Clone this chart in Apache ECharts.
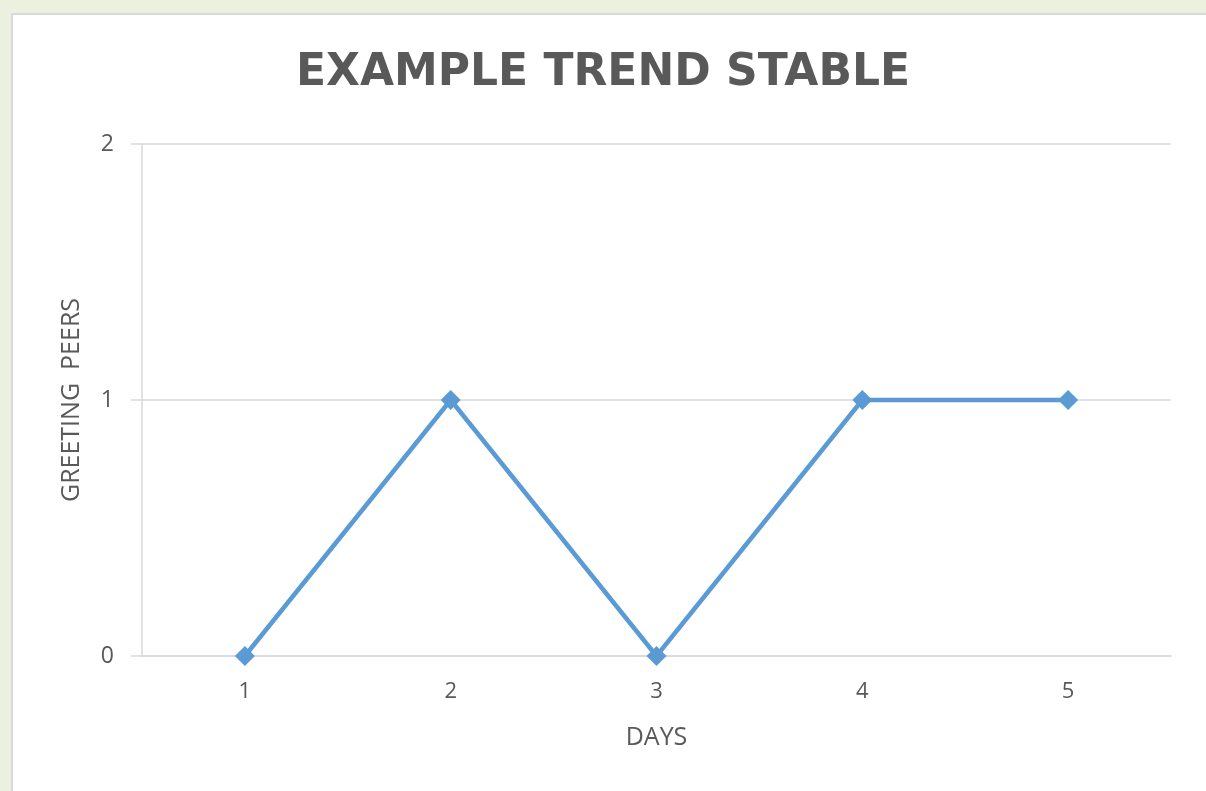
<!DOCTYPE html>
<html>
<head>
<meta charset="utf-8">
<script src="https://cdn.jsdelivr.net/npm/echarts@6/dist/echarts.min.js"></script>
<style>
html,body{margin:0;padding:0;background:#EBF1DE;}
#main{width:1206px;height:791px;}
</style>
</head>
<body>
<div id="main"></div>
<script>
const titleText = 'EXAMPLE TREND STABLE';
const days = ['1', '2', '3', '4', '5'];
const greetingPeers = [0, 1, 0, 1, 1];
const yTicks = { min: 0, max: 2, interval: 1 };
const xAxisName = 'DAYS';
const yAxisName = 'GREETING  PEERS';

const chart = echarts.init(document.getElementById('main'), null, { renderer: 'canvas' });
const textColor = '#595959';
const gridColor = '#D9D9D9';
const font = '"Open Sans", "Noto Sans", sans-serif';

chart.setOption({
  backgroundColor: '#EBF1DE',
  animation: false,
  graphic: [{
    type: 'rect',
    left: 11, top: 13,
    shape: { width: 1210, height: 800 },
    style: { fill: '#FFFFFF', stroke: gridColor, lineWidth: 2 },
    z: -10
  }],
  title: {
    text: titleText,
    left: 'center',
    top: 47,
    padding: [5, 0, 5, 12],
    textStyle: {
      fontFamily: '"DejaVu Sans", sans-serif',
      fontWeight: 'bold',
      fontSize: 44,
      color: textColor
    }
  },
  grid: { left: 142, right: 35, top: 144, bottom: 135 },
  xAxis: {
    type: 'category',
    data: days,
    boundaryGap: true,
    name: xAxisName,
    nameLocation: 'middle',
    nameGap: 69,
    nameTextStyle: { fontFamily: font, fontSize: 25, color: textColor },
    axisLine: { show: true, lineStyle: { color: gridColor, width: 1.5 } },
    axisTick: { show: false },
    axisLabel: { margin: 25, fontFamily: font, fontSize: 22, color: textColor }
  },
  yAxis: {
    type: 'value',
    min: yTicks.min,
    max: yTicks.max,
    interval: yTicks.interval,
    name: yAxisName,
    nameLocation: 'middle',
    nameGap: 58,
    nameTextStyle: { fontFamily: font, fontSize: 25, color: textColor },
    axisLine: { show: true, lineStyle: { color: gridColor, width: 1.5 } },
    axisTick: { show: true, length: 11, lineStyle: { color: gridColor, width: 1.5 } },
    axisLabel: { margin: 28, fontFamily: font, fontSize: 23, color: textColor },
    splitLine: { show: true, lineStyle: { color: gridColor, width: 1.5 } }
  },
  series: [{
    type: 'line',
    data: greetingPeers,
    symbol: 'diamond',
    symbolSize: 20,
    lineStyle: { color: '#5B9BD5', width: 4.5 },
    itemStyle: { color: '#5B9BD5' }
  }]
});
</script>
</body>
</html>
